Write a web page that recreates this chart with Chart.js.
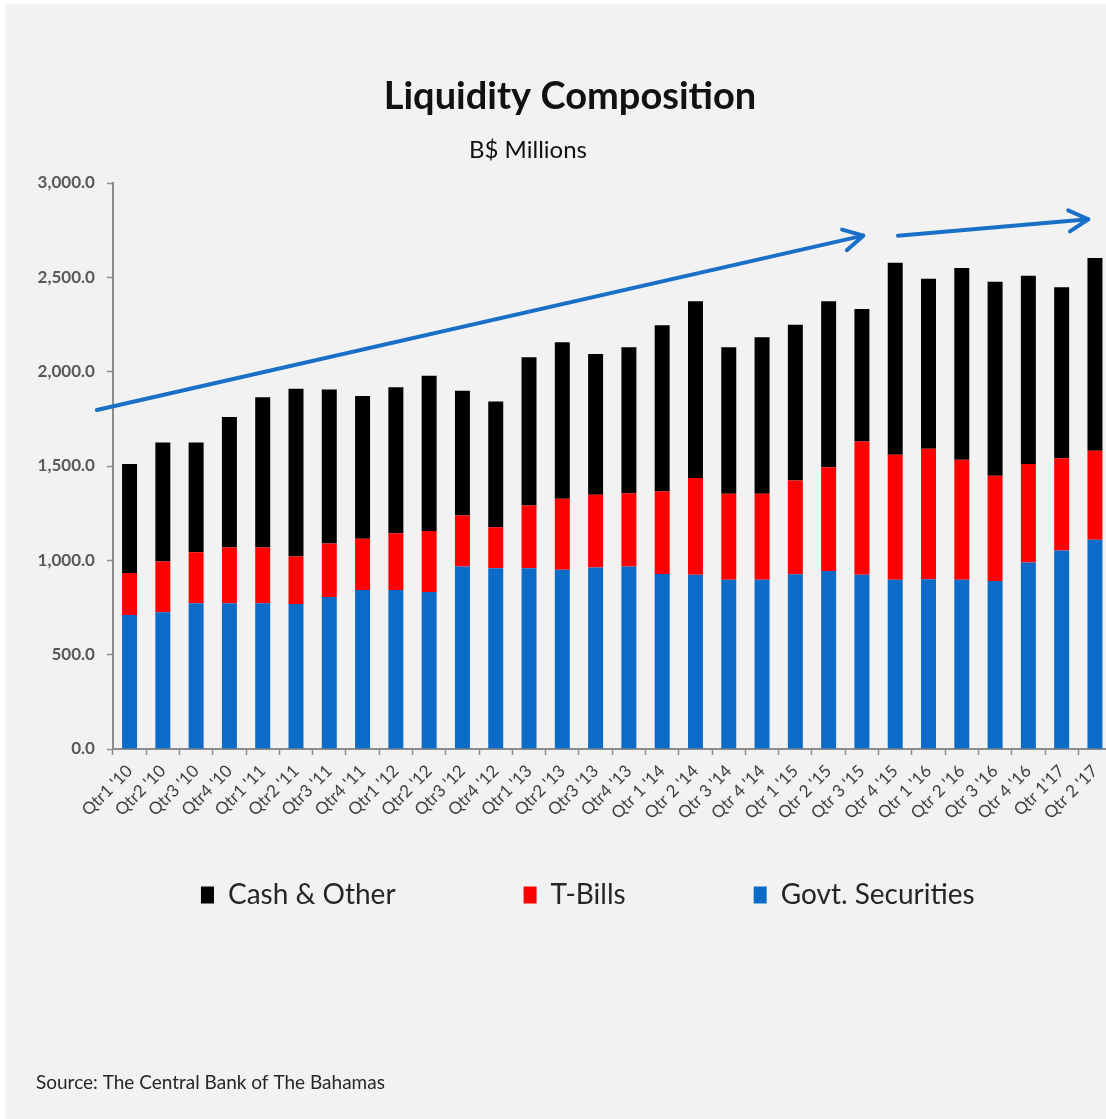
<!DOCTYPE html>
<html><head><meta charset="utf-8">
<script src="https://cdn.jsdelivr.net/npm/chart.js@4/dist/chart.umd.min.js"></script>
<style>
html,body{margin:0;padding:0;overflow:hidden;background:#fff;width:1106px;height:1119px}
canvas{position:absolute;left:0;top:0}
</style></head>
<body>
<canvas id="c" width="1180" height="1119" style="width:1180px;height:1119px"></canvas>
<script>
const categories = ["Qtr1 '10","Qtr2 '10","Qtr3 '10","Qtr4 '10","Qtr1 '11","Qtr2 '11","Qtr3 '11","Qtr4 '11",
  "Qtr1 '12","Qtr2 '12","Qtr3 '12","Qtr4 '12","Qtr1 '13","Qtr2 '13","Qtr3 '13","Qtr4 '13",
  "Qtr 1 '14","Qtr 2 '14","Qtr 3 '14","Qtr 4 '14","Qtr 1 '15","Qtr 2 '15","Qtr 3 '15","Qtr 4 '15",
  "Qtr 1 '16","Qtr 2 '16","Qtr 3 '16","Qtr 4 '16","Qtr 1'17","Qtr 2 '17"];
const govtSecurities = [710,725,773,773,773,768,806,843,843,832,967,958,958,950,962,967,928,923,897,897,926,944,923,897,900,897,891,988,1052,1109];
const tBills         = [223,269,270,295,295,252,283,271,301,323,271,218,333,376,385,389,437,513,456,456,497,550,707,663,692,636,557,522,489,472];
const cashOther      = [577,631,582,692,796,890,816,757,773,824,661,666,785,830,747,773,881,937,776,829,826,879,702,1017,901,1017,1028,999,906,1022];
const seriesNames = ["Govt. Securities","T-Bills","Cash & Other"];
const seriesColors = ["#0B6BC6","#FF0000","#000000"];
const yMin = 0, yMax = 3000, yStep = 500;
// trend arrows in data space: [categoryIndex, value]
const arrows = [
  {from:[-0.98,1797], to:[22.04,2721]},
  {from:[23.08,2721], to:[28.80,2808]}
];
const titleText = "Liquidity Composition";
const subtitleText = "B$ Millions";
const sourceText = "Source: The Central Bank of The Bahamas";

const LEGEND_PAD = 128, LEGEND_FONT = 28, LEGEND_Y = 895;

const decor = {
  id:'decor',
  beforeDraw(chart){
    const ctx = chart.ctx;
    ctx.save();
    ctx.fillStyle = '#ffffff';
    ctx.fillRect(0,0,chart.width,chart.height);
    ctx.fillStyle = '#f2f2f2';
    ctx.fillRect(5,4,chart.width-5,chart.height-4);
    ctx.restore();
  },
  afterLayout(chart){
    if (chart.legend) chart.legend.top = LEGEND_Y - LEGEND_PAD - LEGEND_FONT/2;
  },
  afterDatasetsDraw(chart){
    const ctx = chart.ctx, xs = chart.scales.x, ys = chart.scales.y;
    ctx.save();
    ctx.strokeStyle = '#1A6FC8';
    ctx.lineWidth = 4;
    ctx.lineCap = 'round';
    ctx.lineJoin = 'round';
    arrows.forEach(a => {
      const x1 = xs.getPixelForValue(a.from[0]), y1 = ys.getPixelForValue(a.from[1]);
      const x2 = xs.getPixelForValue(a.to[0]), y2 = ys.getPixelForValue(a.to[1]);
      ctx.beginPath(); ctx.moveTo(x1,y1); ctx.lineTo(x2,y2); ctx.stroke();
      const ang = Math.atan2(y2-y1, x2-x1), L = 22, sp = 0.5;
      ctx.beginPath();
      ctx.moveTo(x2 - L*Math.cos(ang-sp), y2 - L*Math.sin(ang-sp));
      ctx.lineTo(x2,y2);
      ctx.lineTo(x2 - L*Math.cos(ang+sp), y2 - L*Math.sin(ang+sp));
      ctx.stroke();
    });
    ctx.restore();
  },
  afterDraw(chart){
    const ctx = chart.ctx;
    ctx.save();
    ctx.textBaseline = 'middle';
    ctx.fillStyle = '#111111';
    ctx.textAlign = 'center';
    ctx.font = 'bold 38px Lato';
    ctx.fillText(titleText, 570, 97);
    ctx.font = '24px Lato';
    ctx.fillText(subtitleText, 528, 150);
    ctx.textAlign = 'left';
    ctx.fillStyle = '#262626';
    ctx.font = '19px Lato';
    ctx.fillText(sourceText, 36, 1083);
    ctx.restore();
  }
};

function build(){
  new Chart(document.getElementById('c'), {
    type:'bar',
    data:{
      labels: categories,
      datasets: [govtSecurities, tBills, cashOther].map((d,i)=>({
        label: seriesNames[i], data: d, backgroundColor: seriesColors[i],
        borderWidth: 0, categoryPercentage: 1, barPercentage: 0.45
      }))
    },
    options:{
      responsive:false, animation:false, devicePixelRatio:1,
      layout:{padding:{left:14,right:18.4,top:183,bottom:104}},
      plugins:{
        legend:{position:'bottom', reverse:true,
          labels:{font:{family:'Lato',size:LEGEND_FONT}, color:'#262626', boxWidth:13, boxHeight:17, padding:LEGEND_PAD}},
        tooltip:{enabled:false}
      },
      scales:{
        x:{stacked:true,
          afterFit(s){ s.height = 100; },
          grid:{display:true, drawOnChartArea:false, offset:true, tickLength:6, color:'#8c8c8c', tickWidth:1.5},
          border:{display:true, color:'#8c8c8c', width:2},
          ticks:{maxRotation:45, minRotation:45, autoSkip:false, padding:6, font:{family:'Lato',size:17}, color:'#404040'}
        },
        y:{stacked:true, min:yMin, max:yMax,
          afterFit(s){ s.width = 98.9; },
          grid:{display:true, drawOnChartArea:false, tickLength:6, color:'#8c8c8c', tickWidth:1.5},
          border:{display:true, color:'#8c8c8c', width:2},
          ticks:{stepSize:yStep, padding:12, font:{family:'Lato',size:17,weight:'bold'}, color:'#595959',
            callback:v=>Number(v).toLocaleString('en-US',{minimumFractionDigits:1,maximumFractionDigits:1})}
        },
        yRight:{type:'linear', position:'right', display:true,
          afterFit(s){ s.width = 50; },
          grid:{display:false}, border:{display:false}, ticks:{display:false}
        }
      }
    },
    plugins:[decor]
  });
}
Promise.all([document.fonts.load('bold 38px Lato'),document.fonts.load('17px Lato'),document.fonts.load('bold 17px Lato')])
  .then(build, build);
</script>
</body></html>
